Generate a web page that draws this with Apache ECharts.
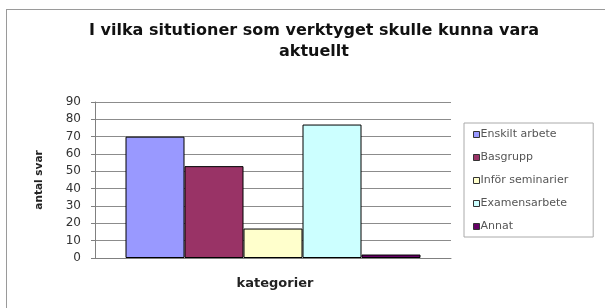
<!DOCTYPE html>
<html>
<head>
<meta charset="utf-8">
<script src="https://cdn.jsdelivr.net/npm/echarts@6/dist/echarts.min.js"></script>
<style>
  html, body { margin: 0; padding: 0; background: #fff; }
  #frame { position: absolute; left: 6px; top: 9px; width: 620px; height: 320px; border: 1px solid #9a9a9a; box-sizing: border-box; }
  #chart { width: 605px; height: 308px; }
</style>
</head>
<body>
<div id="frame"></div>
<div id="chart"></div>
<script>
const seriesNames = ['Enskilt arbete', 'Basgrupp', 'Inför seminarier', 'Examensarbete', 'Annat']
const seriesValues = [70, 53, 17, 77, 2]
const seriesColors = ['#9999ff', '#993366', '#ffffcc', '#ccffff', '#660066']
const categories = ['']

const chart = echarts.init(document.getElementById('chart'))

const series = seriesNames.map((name, i) => ({
  name,
  type: 'bar',
  data: [seriesValues[i]],
  barWidth: 59,
  barGap: '0%',
  itemStyle: { color: seriesColors[i], borderColor: '#000', borderWidth: 1 }
}))

chart.setOption({
  animation: false,
  title: {
    text: 'I vilka situtioner som verktyget skulle kunna vara\naktuellt',
    left: 314,
    textAlign: 'center',
    top: 20,
    padding: 0,
    textStyle: { fontFamily: 'DejaVu Sans', fontSize: 16, fontWeight: 'bold', color: '#111', lineHeight: 21 }
  },
  legend: {
    orient: 'vertical',
    left: 464,
    top: 123,
    itemWidth: 6,
    itemHeight: 6,
    itemGap: 12,
    padding: [6, 25, 5, 9],
    borderColor: '#aaa',
    borderWidth: 1,
    icon: 'rect',
    textStyle: { fontFamily: 'DejaVu Sans', fontSize: 11, color: '#555', padding: [0, 0, 0, -4] },
    data: seriesNames.map(n => ({ name: n, itemStyle: { borderColor: '#333', borderWidth: 1 } }))
  },
  grid: { left: 95, right: 154, top: 102, bottom: 50 },
  xAxis: {
    type: 'category',
    data: categories,
    name: 'kategorier',
    nameLocation: 'middle',
    nameGap: 19,
    nameTextStyle: { fontFamily: 'DejaVu Sans', fontSize: 13, fontWeight: 'bold', color: '#222', padding: [0, 0, 0, 4] },
    axisLine: { lineStyle: { color: '#808080' } },
    axisTick: { show: false },
    axisLabel: { show: false }
  },
  yAxis: {
    type: 'value',
    min: 0,
    max: 90,
    interval: 10,
    name: 'antal svar',
    nameLocation: 'middle',
    nameRotate: 90,
    nameGap: 50,
    nameTextStyle: { fontFamily: 'DejaVu Sans', fontSize: 10.5, fontWeight: 'bold', color: '#222' },
    axisLine: { show: true, lineStyle: { color: '#808080' } },
    axisTick: { show: true, length: 4, lineStyle: { color: '#808080' } },
    axisLabel: { fontFamily: 'DejaVu Sans', fontSize: 12, color: '#333', margin: 14 },
    splitLine: { lineStyle: { color: '#8c8c8c' } }
  },
  series
})
</script>
</body>
</html>
